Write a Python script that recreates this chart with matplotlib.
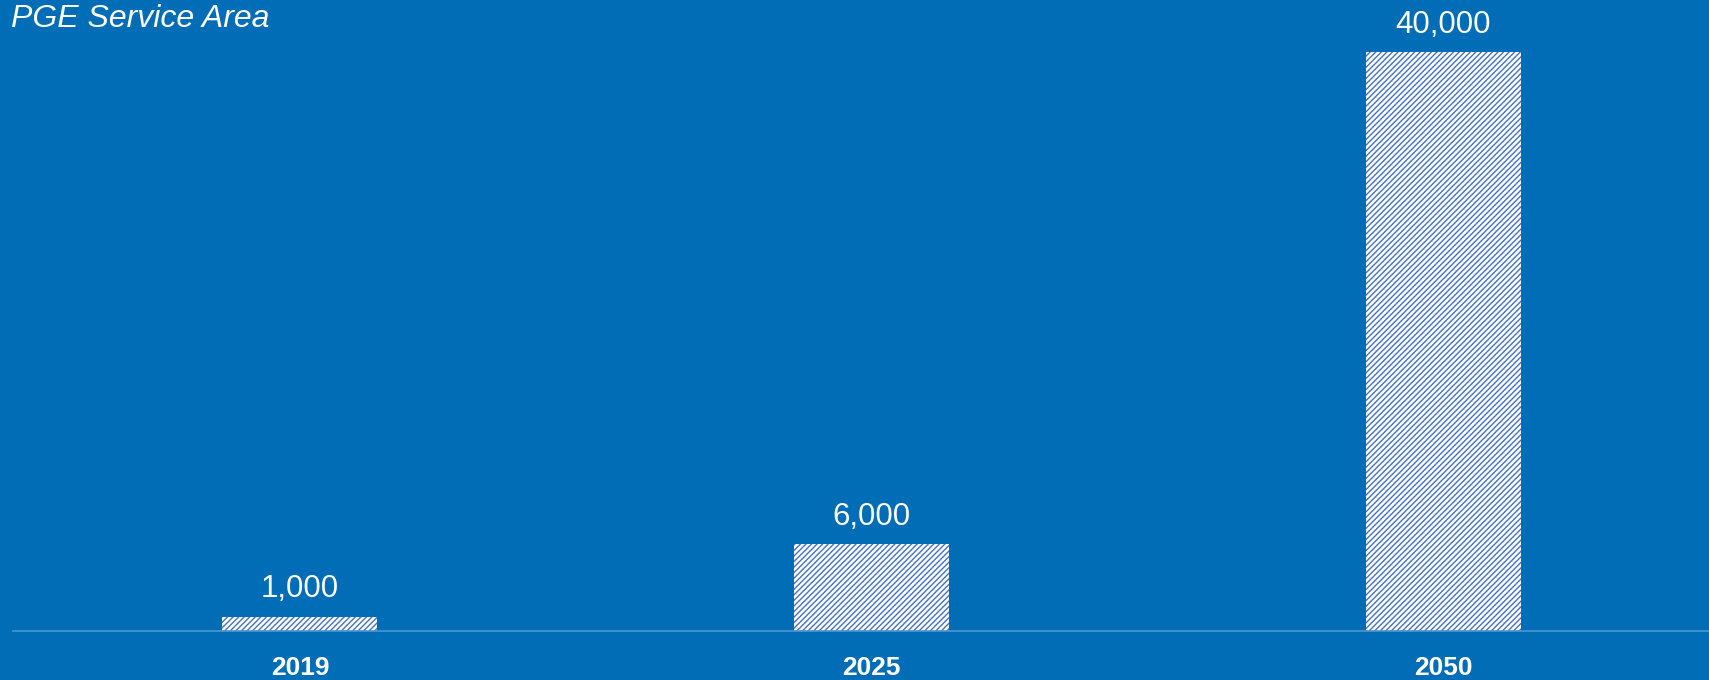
import numpy as np
import matplotlib.pyplot as plt

# data
years = ["2019", "2025", "2050"]
values = [1000, 6000, 40000]
labels = ["1,000", "6,000", "40,000"]

bg = "#006DB6"
hatch_col = "#4472C4"

plt.rcParams['font.family'] = ['Liberation Sans', 'DejaVu Sans']
plt.rcParams['hatch.linewidth'] = 1.0

W, H = 1709, 680
fig = plt.figure(figsize=(W / 100, H / 100), dpi=100, facecolor=bg)
ax = fig.add_axes([13 / W, 1 - 631 / H, 1 - 13 / W, 631 / H])
ax.set_facecolor(bg)

x = np.arange(len(years))
bars = ax.bar(x, values, width=0.271, color="white", edgecolor=hatch_col,
              linewidth=0, hatch="//////")

for xi, v, lab in zip(x, values, labels):
    ax.annotate(lab, (xi, v), xytext=(0, 14), textcoords="offset points",
                ha="center", va="baseline", color="white", fontsize=22.5)

ax.set_xlim(-0.502, 2.465)
ax.set_ylim(0, 40000 * 631 / 579)
ax.set_xticks(x)
ax.set_xticklabels(years, fontsize=19, fontweight="bold", color="white")
ax.tick_params(axis="x", length=0, pad=18)
ax.set_yticks([])
for s in ["top", "right", "left"]:
    ax.spines[s].set_visible(False)
ax.spines["bottom"].set_color("#4F95D2")
ax.spines["bottom"].set_linewidth(1.2)

fig.text(11 / W, 1 - 27 / H, "PGE Service Area", color="white", fontsize=23,
         style="italic", ha="left", va="baseline")

fig.savefig("out.png", dpi=100, facecolor=bg)
